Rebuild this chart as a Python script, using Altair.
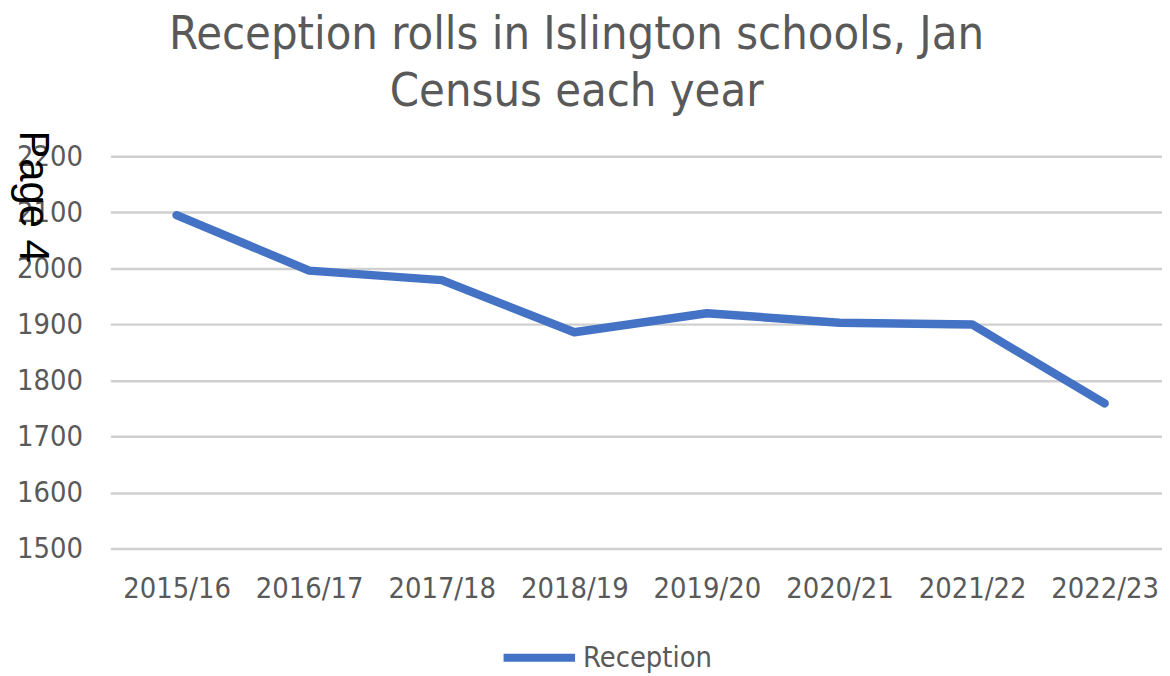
import altair as alt
import pandas as pd

years = ["2015/16", "2016/17", "2017/18", "2018/19", "2019/20", "2020/21", "2021/22", "2022/23"]
reception = [2095, 1996, 1979, 1886, 1920, 1903, 1900, 1759]
series = ["Reception"] * len(years)
y_ticks = [1500, 1600, 1700, 1800, 1900, 2000, 2100, 2200]
title_lines = ["Reception rolls in Islington schools, Jan", "Census each year"]
page_note = ["Page 4"]

df = pd.DataFrame({"year": years, "value": reception, "series": series})
note_df = pd.DataFrame({"note": page_note})

FONT = "DejaVu Sans Condensed"
GREY = "#595959"

line = alt.Chart(df).mark_line(strokeWidth=8.5, strokeCap="round", strokeJoin="round").encode(
    x=alt.X("year:N", sort=years, title=None,
            scale=alt.Scale(paddingOuter=0.5, range=[0, 1068]),
            axis=alt.Axis(labelAngle=0, domain=False, ticks=False, grid=False,
                          labelFontSize=29, labelColor=GREY, labelFont=FONT,
                          labelPadding=26)),
    y=alt.Y("value:Q", title=None,
            scale=alt.Scale(domain=[1500, 2200], nice=False, zero=False),
            axis=alt.Axis(values=y_ticks, format="d", domain=False, ticks=False,
                          labelFontSize=29, labelColor=GREY, labelFont=FONT,
                          labelPadding=28, gridColor="#d0d0d0", gridWidth=2.5)),
    color=alt.Color("series:N", title=None,
                    scale=alt.Scale(domain=["Reception"], range=["#4472C4"]),
                    legend=alt.Legend(orient="none", legendX=392, legendY=465,
                                      symbolType="stroke", symbolSize=5184,
                                      symbolStrokeWidth=8, labelFontSize=29,
                                      labelColor=GREY, labelFont=FONT,
                                      labelOffset=4)),
)

note = alt.Chart(note_df).mark_text(
    angle=90, align="left", baseline="alphabetic", fontSize=42,
    font="Liberation Sans", color="black"
).encode(
    text="note:N",
    x=alt.value(-91),
    y=alt.value(-26),
)

chart = alt.layer(line, note).properties(
    width=1057,
    height=395,
    title=alt.TitleParams(
        title_lines, fontSize=47, font=FONT, color=GREY, fontWeight="normal",
        anchor="middle", dx=-59, lineHeight=57, offset=15,
    ),
    autosize=alt.AutoSizeParams(type="none"),
    padding={"left": 103, "top": 147, "right": 2, "bottom": 128},
).configure_view(stroke=None)

chart.save("out.html", embed_options={"renderer": "svg", "actions": False})
